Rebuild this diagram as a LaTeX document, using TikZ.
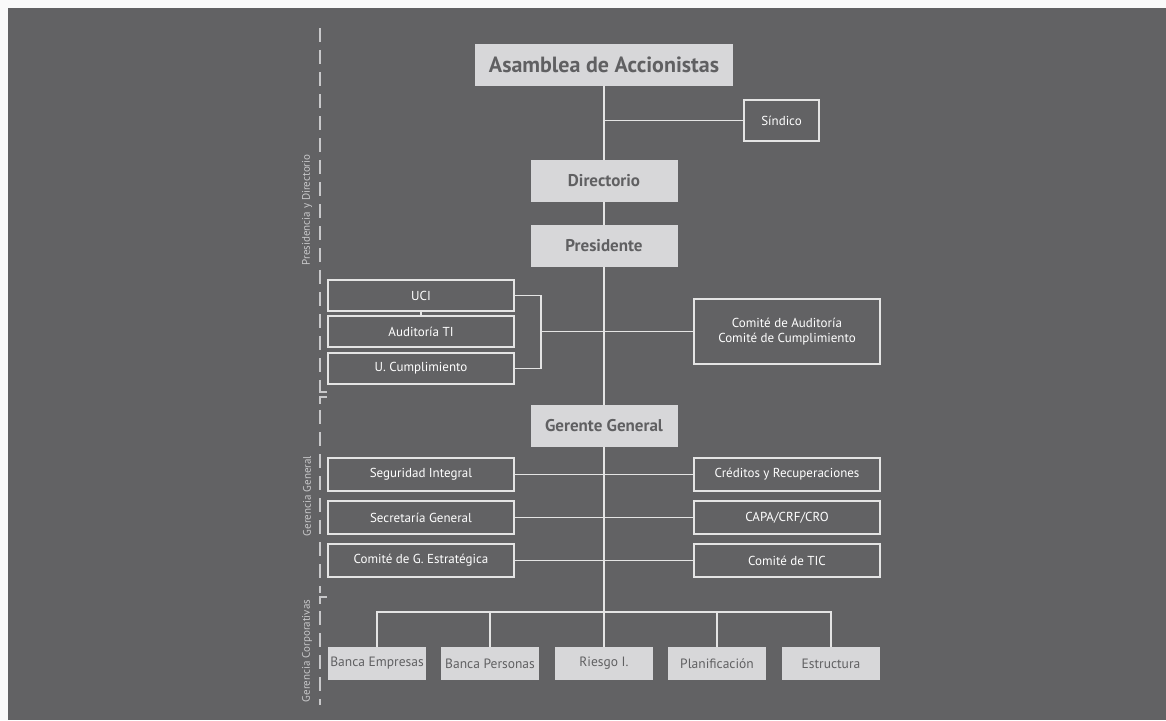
\documentclass[tikz,border=0pt]{standalone}
\usepackage{fontspec}
\setmainfont{PT Sans}
\definecolor{bggray}{RGB}{98,98,100}
\definecolor{boxgray}{RGB}{215,215,217}
\definecolor{inkgray}{RGB}{96,96,98}
\definecolor{linewhite}{RGB}{228,228,228}
\definecolor{labelgray}{RGB}{200,200,202}
\tikzset{
    headbox/.style={fill=boxgray, text=inkgray, inner sep=0pt, minimum width=147pt, minimum height=42pt, font=\fontsize{17}{20}\selectfont\bfseries},
    linebox/.style={draw=linewhite, line width=1.4pt, text=white, inner sep=0pt, minimum width=186pt, minimum height=31pt, font=\fontsize{13}{15.5}\selectfont},
    basebox/.style={fill=boxgray, text=inkgray, inner sep=0pt, minimum width=98pt, minimum height=33pt, font=\fontsize{13.5}{16}\selectfont},
    conn/.style={draw=linewhite, line width=1.4pt},
    guide/.style={draw=labelgray, line width=1.3pt, dash pattern=on 14pt off 8pt},
    sidelabel/.style={rotate=90, text=labelgray, font=\fontsize{11}{13}\selectfont}
}
\begin{document}
\begin{tikzpicture}[x=1pt, y=-1pt]
            \useasboundingbox (0,0) rectangle (1166,720);
            \fill[white!98!black] (0,0) rectangle (1166,720);
            \fill[bggray] (8,8) rectangle (1166,720);
            \draw[guide] (320,28) -- (320,392);
            \draw[labelgray, line width=1.3pt] (320,386) -- (320,392) -- (327,392);
            \draw[labelgray, line width=1.3pt] (327,397) -- (320,397) -- (320,404);
            \draw[guide] (320,410) -- (320,593);
            \draw[labelgray, line width=1.3pt] (327,597) -- (320,597) -- (320,604);
            \draw[guide] (320,611) -- (320,705);
            \node[sidelabel] (lpres) at (307,210) {Presidencia y Directorio};
            \node[sidelabel] (lger) at (307,496) {Gerencia General};
            \node[sidelabel] (lcorp) at (307,651) {Gerencia Corporativas};
            \node[headbox, minimum width=258pt, font=\fontsize{22}{25}\selectfont\bfseries] (asamblea) at (604,65) {Asamblea de Accionistas};
            \node[linebox, minimum width=75pt, minimum height=41pt] (sindico) at (781.5,120.5) {Síndico};
            \node[headbox] (directorio) at (604,181) {Directorio};
            \node[headbox] (presidente) at (604,246) {Presidente};
            \node[linebox] (uci) at (421,295.5) {UCI};
            \node[linebox] (auditoria) at (421,331.5) {Auditoría TI};
            \node[linebox] (cumplimiento) at (421,368.5) {U. Cumplimiento};
            \node[linebox, minimum height=65pt, align=center] (comites) at (787,331.5) {Comité de Auditoría\\Comité de Cumplimiento};
            \node[headbox] (gerente) at (604,426) {Gerente General};
            \node[linebox, minimum height=33pt] (seguridad) at (421,474.5) {Seguridad Integral};
            \node[linebox, minimum height=33pt] (secretaria) at (421,517.5) {Secretaría General};
            \node[linebox, minimum height=33pt] (estrategica) at (421,560.5) {Comité de G. Estratégica};
            \node[linebox, minimum height=33pt] (creditos) at (787,474.5) {Créditos y Recuperaciones};
            \node[linebox, minimum height=33pt] (capa) at (787,517.5) {CAPA/CRF/CRO};
            \node[linebox, minimum height=33pt] (tic) at (787,560.5) {Comité de TIC};
            \node[basebox] (empresas) at (377,663.5) {Banca Empresas};
            \node[basebox] (personas) at (490,663.5) {Banca Personas};
            \node[basebox] (riesgo) at (604,663.5) {Riesgo I.};
            \node[basebox] (planificacion) at (717,663.5) {Planificación};
            \node[basebox] (estructura) at (831,663.5) {Estructura};
            \coordinate (brk) at (541,331.5);
            \coordinate (bus) at (604,612);
            \draw[conn] (asamblea.south) -- (directorio.north);
            \draw[conn] (asamblea.south |- sindico.west) -- (sindico.west);
            \draw[conn] (directorio.south) -- (presidente.north);
            \draw[conn] (presidente.south) -- (gerente.north);
            \draw[conn] (uci.south) -- (auditoria.north);
            \draw[conn] (uci.east) -| (brk) |- (cumplimiento.east);
            \draw[conn] (brk) -- (comites.west);
            \draw[conn] (gerente.south) -- (riesgo.north);
            \draw[conn] (seguridad.east) -- (creditos.west);
            \draw[conn] (secretaria.east) -- (capa.west);
            \draw[conn] (estrategica.east) -- (tic.west);
            \draw[conn] (empresas.north) |- (bus) -| (estructura.north);
            \foreach \b in {personas, planificacion}
                \draw[conn] (\b.north) -- (\b.north |- bus);
        \end{tikzpicture}
\end{document}
